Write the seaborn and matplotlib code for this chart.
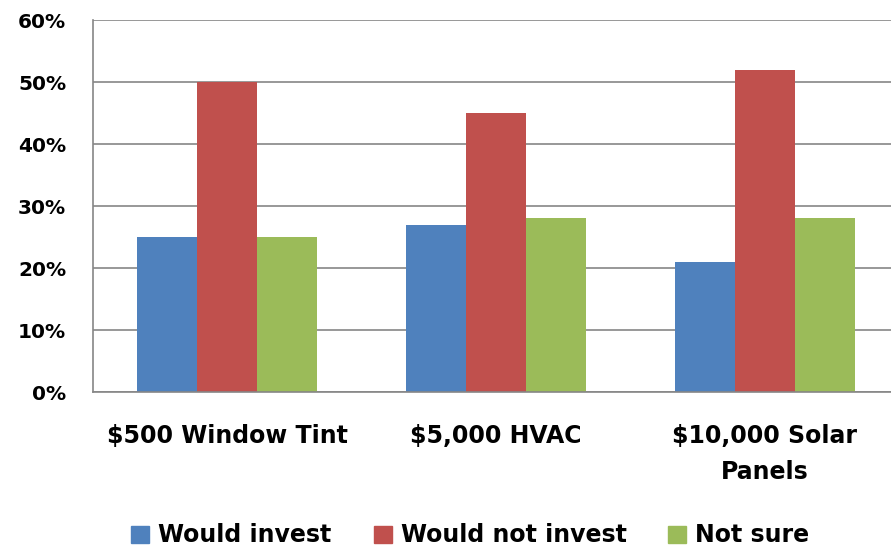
import pandas as pd
import numpy as np
import matplotlib
matplotlib.use('Agg')
import matplotlib.pyplot as plt
import seaborn as sns

categories = ['$500 Window Tint', '$5,000 HVAC', '$10,000 Solar\nPanels']
series = ['Would invest', 'Would not invest', 'Not sure']
would_invest = [25, 27, 21]
would_not_invest = [50, 45, 52]
not_sure = [25, 28, 28]
yticks = [0, 10, 20, 30, 40, 50, 60]

colors = ['#4F81BD', '#C0504D', '#9BBB59']

rows = []
for s, vals in zip(series, [would_invest, would_not_invest, not_sure]):
    for c, v in zip(categories, vals):
        rows.append({'category': c, 'series': s, 'value': v})
df = pd.DataFrame(rows)

sns.set_style('white')
plt.rcParams['font.family'] = ['DejaVu Sans']
plt.rcParams['font.weight'] = 'bold'
plt.rcParams['text.color'] = 'black'
plt.rcParams['xtick.color'] = 'black'
plt.rcParams['ytick.color'] = 'black'

W, H = 891, 548
fig = plt.figure(figsize=(W / 100, H / 100), dpi=100)
ax = fig.add_axes([92.5 / W, (H - 392) / H, 807 / W, 372 / H])

sns.barplot(data=df, x='category', y='value', hue='series', order=categories,
            hue_order=series, palette=colors, width=0.67, gap=0, saturation=1,
            linewidth=0, ax=ax, legend=False)

ax.set_xlim(-0.5, 2.5)
ax.set_ylim(0, 60)
ax.set_yticks(yticks)
ax.set_yticklabels(['{}%'.format(t) for t in yticks], fontsize=14.5, fontweight='bold')
ax.set_xticks(range(len(categories)))
ax.set_xticklabels(categories, fontsize=17, fontweight='bold', linespacing=1.62)
ax.tick_params(axis='both', length=0, colors='black')
ax.tick_params(axis='y', pad=19)
ax.tick_params(axis='x', pad=23)
ax.set_xlabel('')
ax.set_ylabel('')
ax.yaxis.grid(True, color='#868686', linewidth=1.2)
ax.set_axisbelow(True)
for side in ['top', 'right']:
    ax.spines[side].set_visible(False)
for side in ['left', 'bottom']:
    ax.spines[side].set_color('#868686')
    ax.spines[side].set_linewidth(1.2)

handles = [plt.Rectangle((0, 0), 1, 1, color=c) for c in colors]
fig.legend(handles, series, loc='center', bbox_to_anchor=(470.5 / W, 1 - 535.5 / H),
           ncol=3, frameon=False, handlelength=0.76, handleheight=0.76,
           handletextpad=0.38, columnspacing=1.78, borderpad=0,
           prop={'weight': 'bold', 'size': 17})

fig.savefig('out.png', dpi=100)
